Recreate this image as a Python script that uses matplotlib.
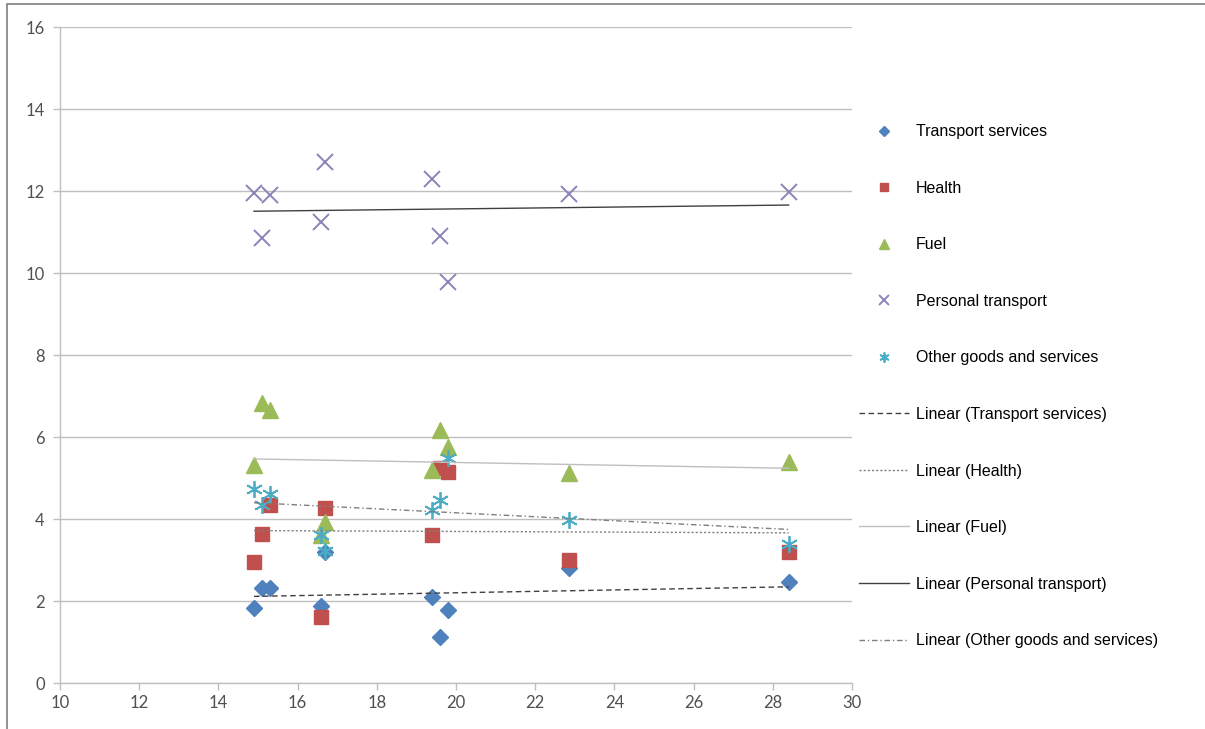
import numpy as np
import matplotlib
matplotlib.use("Agg")
import matplotlib.pyplot as plt
from matplotlib.patches import Rectangle

# x positions shared by every series
x_vals = [14.9, 15.1, 15.3, 16.6, 16.7, 19.4, 19.6, 19.8, 22.85, 28.4]

transport_services = [1.83, 2.32, 2.32, 1.88, 3.20, 2.10, 1.12, 1.78, 2.80, 2.46]
health = [2.95, 3.63, 4.34, 1.61, 4.27, 3.61, 5.25, 5.15, 3.00, 3.20]
fuel = [5.32, 6.83, 6.66, 3.60, 3.93, 5.20, 6.17, 5.76, 5.12, 5.39]
personal_transport = [11.95, 10.85, 11.90, 11.24, 12.70, 12.29, 10.90, 9.78, 11.93, 11.97]
other_goods = [4.72, 4.35, 4.62, 3.60, 3.22, 4.22, 4.46, 5.50, 3.97, 3.40]

series_names = ["Transport services", "Health", "Fuel",
                "Personal transport", "Other goods and services"]
x_ticks = list(range(10, 31, 2))
y_ticks = list(range(0, 17, 2))

plt.rcParams["font.family"] = ["Liberation Sans", "DejaVu Sans"]

fig = plt.figure(figsize=(12.05, 7.29), dpi=100)
ax = fig.add_axes([60 / 1205, 1 - 683 / 729, 792 / 1205, 656 / 729])

styles = [
    dict(marker="D", color="#4F81BD", ms=8.5, mec="#4F81BD"),
    dict(marker="s", color="#C0504D", ms=10, mec="#C0504D"),
    dict(marker="^", color="#9BBB59", ms=11, mec="#9BBB59"),
    dict(marker="x", color="#8A84B8", ms=11, mew=1.4),
    dict(marker=(6, 2, 0), color="#4BACC6", ms=12, mew=1.3),
]
trend_styles = [
    dict(color="#404040", ls=(0, (4, 2.5)), lw=1.0),
    dict(color="#7F7F7F", ls=(0, (1.5, 1.5)), lw=1.0),
    dict(color="#BFBFBF", ls="-", lw=1.0),
    dict(color="#404040", ls="-", lw=1.0),
    dict(color="#7F7F7F", ls=(0, (4, 2, 1, 2)), lw=1.0),
]

all_series = [transport_services, health, fuel, personal_transport, other_goods]
xs = np.array(x_vals)

for name, vals, st in zip(series_names, all_series, styles):
    ax.plot(xs, vals, ls="none", label=name, zorder=3, **st)

# least-squares trend over the data range
trend_handles = []
for name, vals, st in zip(series_names, all_series, trend_styles):
    slope, intercept = np.polyfit(xs, vals, 1)
    xr = np.array([xs.min(), xs.max()])
    h, = ax.plot(xr, slope * xr + intercept, label=f"Linear ({name})", zorder=4, **st)
    trend_handles.append(h)

ax.set_xlim(10, 30)
ax.set_ylim(0, 16)
ax.set_xticks(x_ticks)
ax.set_yticks(y_ticks)
ax.yaxis.grid(True, color="#BFBFBF", lw=1.0)
ax.set_axisbelow(True)
for side in ("top", "right"):
    ax.spines[side].set_visible(False)
for side in ("left", "bottom"):
    ax.spines[side].set_color("#BFBFBF")
    ax.spines[side].set_linewidth(1.0)
ax.tick_params(colors="#BFBFBF", length=5, width=1.0, labelcolor="#505050", labelsize=12)
ax.tick_params(axis="y", pad=6)
for lbl in ax.get_xticklabels() + ax.get_yticklabels():
    lbl.set_family(["Lato", "DejaVu Sans"])

# smaller markers in the legend
leg_handles = []
for st in styles:
    leg = dict(st)
    leg["ms"] = st["ms"] * 0.6
    lh, = ax.plot([], [], ls="none", **leg)
    leg_handles.append(lh)

fig.legend(leg_handles + trend_handles,
           series_names + [f"Linear ({n})" for n in series_names],
           loc="upper left", bbox_to_anchor=(845 / 1205, 1 - 110 / 729),
           frameon=False, fontsize=11.5, labelspacing=2.6,
           handlelength=3.1, handletextpad=0.45)

# outer frame of the chart area
fig.add_artist(Rectangle((7 / 1205, -0.01), 1.0, 1 - 4 / 729 + 0.01,
                         transform=fig.transFigure, fill=False,
                         edgecolor="#7F7F7F", lw=1.2))

fig.savefig("out.png", dpi=100)
